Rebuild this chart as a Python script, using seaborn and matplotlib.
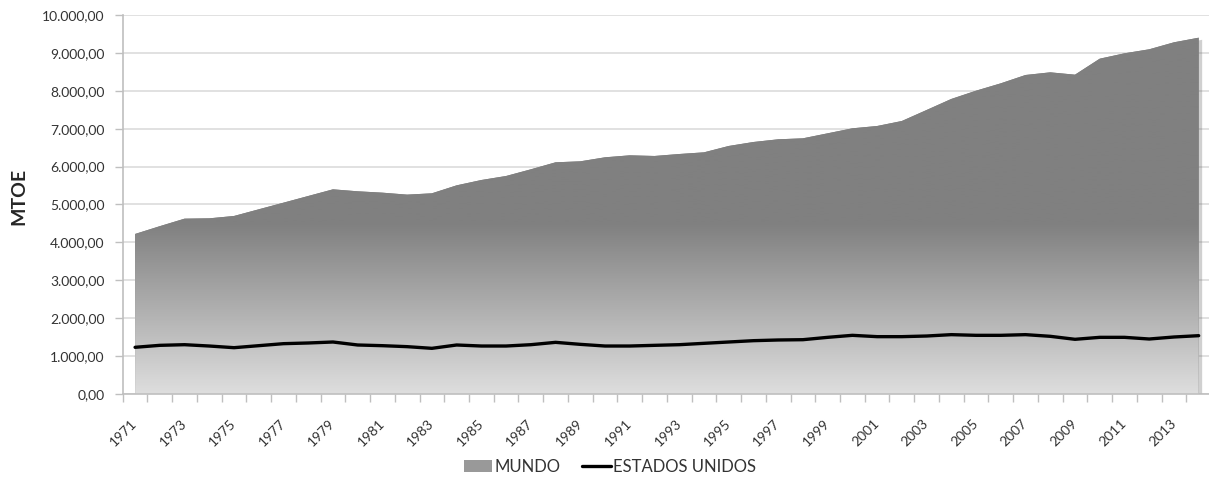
import numpy as np
import pandas as pd
import matplotlib
matplotlib.use("Agg")
import matplotlib.pyplot as plt
import matplotlib.patheffects as pe
import seaborn as sns
from matplotlib.colors import LinearSegmentedColormap
from matplotlib.patches import Patch
from matplotlib.lines import Line2D
from matplotlib.ticker import FixedLocator, FuncFormatter, NullFormatter

# Consumo de energia (MTOE), 1971-2014
anos = list(range(1971, 2015))
mundo = [4222, 4428, 4626, 4635, 4697, 4873, 5048, 5224, 5400, 5348,
         5312, 5260, 5295, 5505, 5646, 5752, 5928, 6113, 6139, 6245,
         6297, 6280, 6332, 6376, 6544, 6649, 6720, 6746, 6878, 7010,
         7071, 7203, 7493, 7785, 8003, 8197, 8417, 8487, 8425, 8847,
         8989, 9095, 9279, 9401]
estados_unidos = [1232, 1284, 1301, 1266, 1222, 1275, 1328, 1346, 1372, 1293,
                  1275, 1249, 1205, 1293, 1266, 1266, 1301, 1363, 1310, 1266,
                  1266, 1284, 1301, 1337, 1372, 1407, 1425, 1433, 1495, 1548,
                  1513, 1513, 1530, 1566, 1548, 1548, 1566, 1522, 1443, 1495,
                  1495, 1451, 1504, 1539]
y_ticks = list(range(0, 10001, 1000))
rotulos_series = ["MUNDO", "ESTADOS UNIDOS"]

sns.set_style("white")
plt.rcParams["font.family"] = ["Lato", "DejaVu Sans"]

texto = "#333333"
cinza_eixo = "#bfbfbf"

df = pd.DataFrame({"pos": np.arange(len(anos)), "ano": anos,
                   "MUNDO": mundo, "ESTADOS UNIDOS": estados_unidos})

fig = plt.figure(figsize=(12.09, 4.8), dpi=100)
ax = fig.add_axes([0.1015, 0.17917, 0.9002, 0.78958])

# Área do mundo: polígono com sombra e preenchimento em degradê
area = ax.fill_between(df["pos"], df["MUNDO"], 0, facecolor="#808080",
                       edgecolor="none", zorder=2,
                       path_effects=[pe.SimplePatchShadow(offset=(2.5, -1.5),
                                                          shadow_rgbFace="#666666",
                                                          alpha=0.3),
                                     pe.Normal()])
cmap = LinearSegmentedColormap.from_list("cinza", ["#dedede", "#808080"])
ys = np.linspace(0, 10000, 600)
grad = np.clip(ys / 4500.0, 0, 1)[:, None]
im = ax.imshow(grad, extent=(-0.5, len(anos) - 0.5, 0, 10000), origin="lower",
               aspect="auto", cmap=cmap, vmin=0, vmax=1,
               interpolation="bilinear", zorder=2.1)
im.set_clip_path(area.get_paths()[0], transform=ax.transData)

# Linha dos Estados Unidos
sns.lineplot(data=df, x="pos", y="ESTADOS UNIDOS", color="black",
             linewidth=2.4, ax=ax, zorder=3, solid_joinstyle="round",
             solid_capstyle="round")

ax.set_xlim(-0.5, len(anos) - 0.5)
ax.set_ylim(0, 10000)

# Eixo Y com formato brasileiro
ax.yaxis.set_major_locator(FixedLocator(y_ticks))
ax.yaxis.set_major_formatter(FuncFormatter(
    lambda v, p: f"{v:,.2f}".replace(",", "X").replace(".", ",").replace("X", ".")))
ax.yaxis.grid(True, color="#d9d9d9", linewidth=1.1)
ax.xaxis.grid(False)
ax.set_axisbelow(True)

# Eixo X: marcas entre categorias, rótulos a cada dois anos
ax.xaxis.set_major_locator(FixedLocator(np.arange(-0.5, len(anos), 1.0)))
ax.xaxis.set_major_formatter(NullFormatter())
ax.xaxis.set_minor_locator(FixedLocator(df["pos"][::2]))
ax.xaxis.set_minor_formatter(FuncFormatter(lambda v, p: str(anos[int(round(v))])))

ax.tick_params(axis="y", which="major", left=True, length=6, width=1,
               color=cinza_eixo, pad=7, labelsize=10, labelcolor=texto)
ax.tick_params(axis="x", which="major", bottom=True, length=6, width=1,
               color=cinza_eixo)
ax.tick_params(axis="x", which="minor", bottom=True, length=0, pad=20,
               labelsize=10, labelcolor=texto)
for lbl in ax.get_xticklabels(minor=True):
    lbl.set_rotation(45)
    lbl.set_ha("right")
    lbl.set_va("center")
    lbl.set_rotation_mode("anchor")

for s in ["top", "right"]:
    ax.spines[s].set_visible(False)
for s in ["left", "bottom"]:
    ax.spines[s].set_color(cinza_eixo)
    ax.spines[s].set_linewidth(1.2)
    ax.spines[s].set_zorder(4)

ax.set_xlabel("")
ax.set_ylabel("MTOE", fontsize=14, fontweight="bold", color="#262626", va="center")
ax.yaxis.set_label_coords(-0.0957, 0.5224)

handles = [Patch(facecolor="#999999", edgecolor="none"),
           Line2D([], [], color="black", linewidth=2.4)]
fig.legend(handles, rotulos_series, loc="center",
           bbox_to_anchor=(610 / 1209, 1 - 467 / 480), ncol=2, frameon=False,
           fontsize=12, handlelength=1.7, handletextpad=0.15,
           columnspacing=1.3, labelcolor=texto)

fig.savefig("out.png", dpi=100)
